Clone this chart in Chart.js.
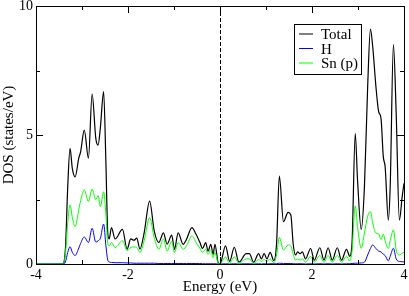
<!DOCTYPE html>
<html>
<head>
<meta charset="utf-8">
<script src="https://cdn.jsdelivr.net/npm/chart.js@4"></script>
<style>
  html, body { margin: 0; padding: 0; background: #fff; }
</style>
</head>
<body>
<canvas id="dosChart" width="409" height="296"></canvas>
<script>
'use strict';

// energy grid (eV) and DOS values
var energy = [-4.00, -3.42, -3.36, -3.31, -3.26, -3.21, -3.15, -3.07, -3.03, -2.95,
  -2.86, -2.78, -2.70, -2.65, -2.60, -2.53, -2.48, -2.44, -2.41, -2.36,
  -2.28, -2.12, -2.02, -1.94, -1.87, -1.81, -1.74, -1.65, -1.53, -1.43,
  -1.33, -1.23, -1.15, -1.05, -0.99, -0.91, -0.80, -0.73, -0.61, -0.52,
  -0.44, -0.38, -0.31, -0.26, -0.20, -0.15, -0.11, -0.04, 0.00, 0.12,
  0.21, 0.31, 0.41, 0.57, 0.64, 0.73, 0.84, 0.90, 0.96, 1.02,
  1.09, 1.17, 1.23, 1.29, 1.38, 1.48, 1.54, 1.59, 1.64, 1.69,
  1.74, 1.79, 1.86, 1.97, 2.05, 2.17, 2.26, 2.35, 2.44, 2.55,
  2.64, 2.75, 2.82, 2.87, 2.94, 2.99, 3.07, 3.14, 3.21, 3.27,
  3.32, 3.39, 3.45, 3.50, 3.55, 3.59, 3.66, 3.70, 3.77, 3.83,
  3.90, 3.96, 4.00];

var dosTotal = [0, 0, 0.6, 3.0, 4.48, 3.7, 3.38, 4.1, 4.35, 5.19,
  4.1, 6.59, 4.87, 4.61, 5.3, 6.68, 3.9, 1.2, 0.97, 1.41,
  0.97, 1.34, 0.58, 0.97, 0.92, 1.0, 0.58, 1.2, 2.44, 1.28,
  0.83, 1.21, 0.77, 1.12, 0.57, 1.21, 0.76, 0.95, 1.41, 1.15,
  0.85, 0.6, 0.83, 0.5, 0.76, 0.37, 0.76, 0.05, 0, 0.7,
  0.1, 0.65, 0.07, 0.4, 0.4, 0.07, 0.4, 0.2, 0.4, 0.2,
  0.45, 0.13, 0.8, 3.41, 1.64, 2.0, 1.9, 0.8, 0.35, 0.47,
  0.4, 0.47, 0.2, 0.6, 0.15, 0.63, 0.15, 0.63, 0.15, 0.63,
  0.15, 0.57, 0.3, 0.8, 5.06, 3.26, 1.34, 3.0, 6.87, 9.1,
  8.42, 6.87, 5.9, 5.65, 4.16, 3.77, 1.7, 3.0, 8.5, 5.84,
  1.7, 2.6, 3.13];

var dosH = [0, 0, 0.08, 0.45, 0.67, 0.45, 0.33, 0.62, 0.8, 1.05,
  0.83, 1.38, 0.85, 0.9, 1.0, 1.55, 0.7, 0.15, 0.08, 0.06,
  0.05, 0.05, 0.04, 0.04, 0.03, 0.03, 0.03, 0.03, 0.03, 0.03,
  0.02, 0.02, 0.02, 0.02, 0.02, 0.02, 0.02, 0.02, 0.02, 0.02,
  0.02, 0.01, 0.01, 0.01, 0.01, 0.01, 0.01, 0, 0, 0.01,
  0, 0.01, 0, 0.01, 0.01, 0, 0.01, 0, 0.01, 0,
  0.01, 0.01, 0.01, 0.03, 0.02, 0.02, 0.02, 0.01, 0.01, 0.01,
  0.01, 0.01, 0, 0.01, 0, 0.01, 0, 0.01, 0, 0.01,
  0, 0.01, 0.01, 0.02, 0.03, 0.03, 0.04, 0.07, 0.35, 0.6,
  0.74, 0.6, 0.5, 0.47, 0.38, 0.33, 0.12, 0.3, 0.61, 0.2,
  0.1, 0.09, 0.08];

var dosSnP = [0, 0, 0.4, 1.6, 2.29, 1.8, 1.45, 2.1, 2.45, 2.87,
  2.42, 2.9, 2.5, 2.65, 2.22, 2.8, 1.9, 0.8, 0.7, 0.83,
  0.64, 0.9, 0.52, 0.64, 0.66, 0.64, 0.45, 0.9, 1.8, 1.02,
  0.57, 0.97, 0.5, 0.88, 0.45, 0.83, 0.57, 0.7, 1.09, 0.83,
  0.62, 0.45, 0.57, 0.37, 0.55, 0.25, 0.45, 0.03, 0, 0.27,
  0.03, 0.27, 0.03, 0.2, 0.2, 0.02, 0.17, 0.1, 0.17, 0.1,
  0.2, 0.05, 0.35, 1.03, 0.54, 0.74, 0.7, 0.4, 0.15, 0.2,
  0.15, 0.2, 0.07, 0.3, 0.07, 0.33, 0.07, 0.33, 0.07, 0.33,
  0.07, 0.3, 0.12, 0.5, 2.25, 1.45, 0.61, 1.2, 1.85, 2.03,
  1.58, 1.2, 1.17, 0.95, 1.15, 0.9, 0.6, 0.9, 1.32, 0.54,
  0.35, 0.42, 0.45];

var seriesNames = ['Total', 'H', 'Sn (p)'];
var seriesColors = ['#000000', '#0000ff', '#00ff00'];

var xMajor = [-4, -2, 0, 2, 4];
var xMinor = [-3, -1, 1, 3];
var yMajor = [0, 5, 10];
var yMinor = [2.5, 7.5];

var fontFamily = '"Liberation Serif", "Times New Roman", serif';

function toPoints(ys) {
    return energy.map(function (e, i) { return { x: e, y: ys[i] }; });
}

// frame, inward ticks and the dashed Fermi level line
var framePlugin = {
    id: 'framePlugin',
    beforeDatasetsDraw: function (chart) {
        var ctx = chart.ctx, a = chart.chartArea;
        var x0 = Math.round(chart.scales.x.getPixelForValue(0)) + 0.5;
        ctx.save();
        ctx.strokeStyle = '#000';
        ctx.lineWidth = 1;
        ctx.setLineDash([4, 2]);
        ctx.beginPath();
        ctx.moveTo(x0, a.top);
        ctx.lineTo(x0, a.bottom);
        ctx.stroke();
        ctx.restore();
    },
    afterDatasetsDraw: function (chart) {
        var ctx = chart.ctx, a = chart.chartArea;
        var sx = chart.scales.x, sy = chart.scales.y;
        ctx.save();
        ctx.strokeStyle = '#000';
        ctx.lineWidth = 1;
        ctx.beginPath();
        function xt(v, len) {
            var p = Math.round(sx.getPixelForValue(v)) + 0.5;
            ctx.moveTo(p, a.bottom); ctx.lineTo(p, a.bottom - len);
            ctx.moveTo(p, a.top); ctx.lineTo(p, a.top + len);
        }
        function yt(v, len) {
            var p = Math.round(sy.getPixelForValue(v)) + 0.5;
            ctx.moveTo(a.left, p); ctx.lineTo(a.left + len, p);
            ctx.moveTo(a.right, p); ctx.lineTo(a.right - len, p);
        }
        xMajor.forEach(function (v) { xt(v, 7); });
        xMinor.forEach(function (v) { xt(v, 4); });
        yMajor.forEach(function (v) { yt(v, 7); });
        yMinor.forEach(function (v) { yt(v, 4); });
        ctx.stroke();
        ctx.strokeRect(Math.round(a.left) + 0.5, Math.round(a.top) + 0.5,
            Math.round(a.right - a.left), Math.round(a.bottom - a.top));
        ctx.restore();
    },
    afterDraw: function (chart) {
        // legend box in the upper right of the plot
        var ctx = chart.ctx;
        var bx = 294.5, by = 24.5, bw = 67, bh = 50;
        ctx.save();
        ctx.fillStyle = '#fff';
        ctx.fillRect(bx, by, bw, bh);
        ctx.strokeStyle = '#000';
        ctx.lineWidth = 1;
        ctx.strokeRect(bx, by, bw, bh);
        ctx.font = '15px ' + fontFamily;
        ctx.textBaseline = 'alphabetic';
        seriesNames.forEach(function (name, i) {
            var ly = 34 + i * 14.5;
            ctx.strokeStyle = seriesColors[i];
            ctx.beginPath();
            ctx.moveTo(299, ly);
            ctx.lineTo(313, ly);
            ctx.stroke();
            ctx.fillStyle = '#000';
            ctx.fillText(name, 321, ly + 5);
        });
        ctx.restore();
    }
};

var datasets = [dosTotal, dosH, dosSnP].map(function (ys, i) {
    return {
        label: seriesNames[i],
        data: toPoints(ys),
        borderColor: seriesColors[i],
        borderWidth: i === 0 ? 1.2 : 1,
        pointRadius: 0,
        fill: false,
        cubicInterpolationMode: 'monotone',
        order: 3 - i
    };
});

new Chart(document.getElementById('dosChart'), {
    type: 'line',
    data: { datasets: datasets },
    options: {
        responsive: false,
        animation: false,
        devicePixelRatio: 1,
        layout: { padding: { left: 0, right: 5, top: 6, bottom: 0 } },
        plugins: { legend: { display: false }, tooltip: { enabled: false } },
        scales: {
            x: {
                type: 'linear',
                min: -4, max: 4,
                grid: { display: false, drawTicks: false },
                border: { display: false },
                ticks: {
                    stepSize: 2, padding: 3, color: '#000',
                    font: { family: fontFamily, size: 14 },
                    maxRotation: 0
                },
                title: {
                    display: true, text: 'Energy (eV)', color: '#000',
                    font: { family: fontFamily, size: 15 },
                    padding: 0
                },
                afterFit: function (s) { s.height = 32; s.paddingLeft = 0; s.paddingRight = 0; }
            },
            y: {
                min: 0, max: 10,
                grid: { display: false, drawTicks: false },
                border: { display: false },
                ticks: {
                    stepSize: 5, padding: 3, color: '#000',
                    font: { family: fontFamily, size: 14 }
                },
                title: {
                    display: true, text: 'DOS (states/eV)', color: '#000',
                    font: { family: fontFamily, size: 15 },
                    padding: 0
                },
                afterFit: function (s) { s.width = 36; s.paddingTop = 0; s.paddingBottom = 0; }
            }
        }
    },
    plugins: [framePlugin]
});
</script>
</body>
</html>
